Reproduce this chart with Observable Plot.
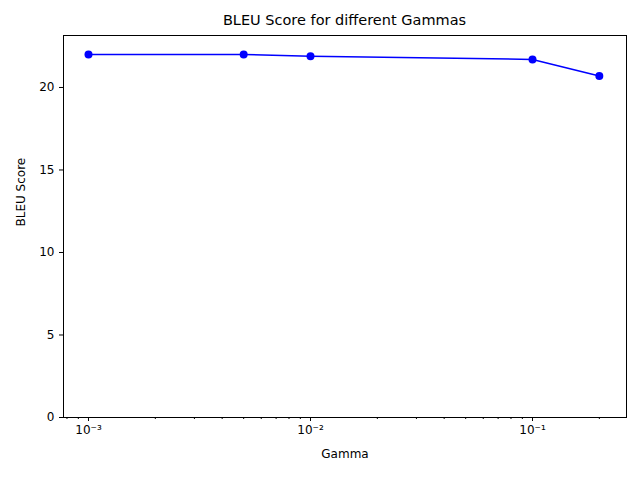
<!DOCTYPE html>
<html>
<head>
<meta charset="utf-8">
<script src="https://cdn.jsdelivr.net/npm/d3@7"></script>
<script src="https://cdn.jsdelivr.net/npm/@observablehq/plot@0.6"></script>
<style>
  body { margin: 0; background: #fff; font-family: "DejaVu Sans", sans-serif; }
  #wrap { position: relative; width: 640px; height: 480px; }
  #title { position: absolute; top: 12px; left: 63px; width: 563px; text-align: center; font-size: 14.5px; }
</style>
</head>
<body>
<div id="wrap">
  <div id="title">BLEU Score for different Gammas</div>
  <div id="chart"></div>
</div>
<script>
const gammas = [0.001, 0.005, 0.01, 0.1, 0.2];
const bleu = [22.0, 22.0, 21.9, 21.7, 20.7];
const majorTicks = [0.001, 0.01, 0.1];
const majorLabels = ["10\u207B\u00B3", "10\u207B\u00B2", "10\u207B\u00B9"];
const yTicks = [0, 5, 10, 15, 20];

const data = gammas.map((g, i) => ({gamma: g, score: bleu[i]}));
const labelOf = new Map(majorTicks.map((t, i) => [t, majorLabels[i]]));
const minorTicks = [];
for (const d of [0.0001, 0.001, 0.01, 0.1]) for (let k = 2; k <= 9; k++) minorTicks.push(d * k);
const xDomain = [Math.pow(10, -3.1126), Math.pow(10, -0.5766)];
const minorIn = minorTicks.filter(t => t >= xDomain[0] && t <= xDomain[1]);

const chart = Plot.plot({
  width: 640,
  height: 480,
  marginLeft: 63,
  marginRight: 14,
  marginTop: 35,
  marginBottom: 63,
  style: { fontFamily: "DejaVu Sans, sans-serif", fontSize: "12px", color: "#000" },
  x: { type: "log", domain: xDomain, axis: null },
  y: { domain: [0, 23.15], axis: null },
  marks: [
    Plot.axisX(majorTicks, { tickSize: 4, tickFormat: d => labelOf.get(d), fontSize: 12, tickPadding: 4, label: null }),
    Plot.axisX(minorIn, { tickSize: 2, tickFormat: () => "", label: null }),
    Plot.axisY(yTicks, { tickSize: 4, fontSize: 12, label: null }),
    Plot.frame({ stroke: "#000" }),
    Plot.line(data, { x: "gamma", y: "score", stroke: "blue", strokeWidth: 1.5 }),
    Plot.dot(data, { x: "gamma", y: "score", fill: "blue", r: 4 }),
    Plot.text(["Gamma"], { frameAnchor: "bottom", dy: 40, fontSize: 12 }),
    Plot.text(["BLEU Score"], { frameAnchor: "left", dx: -42, rotate: -90, fontSize: 12 })
  ]
});
document.getElementById("chart").appendChild(chart);
</script>
</body>
</html>
